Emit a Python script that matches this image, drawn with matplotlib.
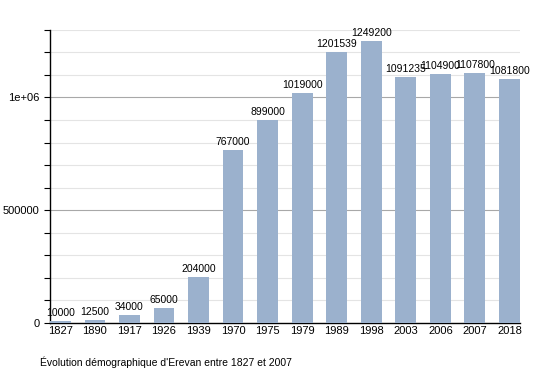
import numpy as np
import matplotlib.pyplot as plt
from matplotlib.ticker import MultipleLocator, FixedLocator, FixedFormatter

plt.rcParams['font.family'] = ['Liberation Sans', 'DejaVu Sans']

# --- Données ---
years = ["1827", "1890", "1917", "1926", "1939", "1970", "1975",
         "1979", "1989", "1998", "2003", "2006", "2007", "2018"]
population = [10000, 12500, 34000, 65000, 204000, 767000, 899000,
              1019000, 1201539, 1249200, 1091235, 1104900, 1107800, 1081800]
ytick_vals = [0, 500000, 1000000]
ytick_labels = ["0", "500000", "1e+06"]
caption = "Évolution démographique d'Erevan entre 1827 et 2007"

fig = plt.figure(figsize=(5.5, 3.73), dpi=100)
ax = fig.add_axes([0.091, 0.134, 0.854, 0.786])

x = np.arange(len(years))
ax.bar(x, population, width=0.6, color="#9bb1cd", zorder=3)

for xi, v in zip(x, population):
    ax.text(xi, v + 14000, str(v), ha="center", va="bottom", fontsize=7.5, zorder=4)

ax.set_xlim(-0.3, len(years) - 0.7)
ax.set_ylim(0, 1.3e6)

# grille : fine tous les 100000, plus foncée aux graduations principales
for yv in np.arange(100000, 1300001, 100000):
    major = yv % 500000 == 0
    ax.axhline(yv, color="#a8a8a8" if major else "#e4e4e4", linewidth=0.8, zorder=1)

ax.yaxis.set_major_locator(FixedLocator(ytick_vals))
ax.yaxis.set_major_formatter(FixedFormatter(ytick_labels))
ax.yaxis.set_minor_locator(MultipleLocator(100000))
ax.tick_params(axis="y", which="both", direction="out", length=4, width=0.8, labelsize=8)
ax.set_xticks(x)
ax.set_xticklabels(years, fontsize=8)
ax.tick_params(axis="x", length=0, pad=2)

for s in ["top", "right"]:
    ax.spines[s].set_visible(False)
ax.spines["left"].set_linewidth(1)
ax.spines["bottom"].set_linewidth(1)

fig.text(40 / 550, 1 - 362 / 373, caption, fontsize=7.5, va="center", ha="left")

fig.savefig("out.png", dpi=100)
